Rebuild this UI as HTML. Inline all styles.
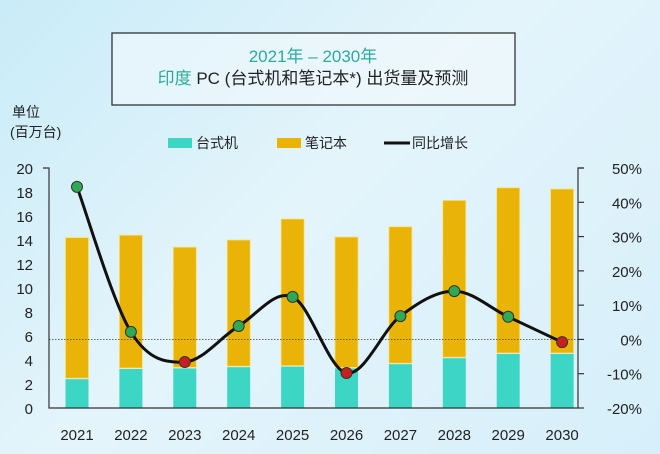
<!DOCTYPE html>
<html><head><meta charset="utf-8"><style>
body{margin:0;width:660px;height:454px;overflow:hidden;background:linear-gradient(135deg,#c9ecf8 0%,#e4f4fb 45%,#d6effa 100%);font-family:"Liberation Sans","Noto Sans CJK SC",sans-serif;}
svg{position:absolute;left:0;top:0}
</style></head><body>
<svg id="chart" width="660" height="454">
<rect x="112" y="33" width="403" height="72" fill="#f4fafd" fill-opacity="0.55" stroke="#333" stroke-width="1.3"/>
<text x="313" y="62" text-anchor="middle" font-size="17" fill="#2bab9f" font-family="Liberation Sans,Noto Sans CJK SC,sans-serif">2021年 – 2030年</text>
<text x="313" y="84" text-anchor="middle" font-size="17" fill="#222" font-family="Liberation Sans,Noto Sans CJK SC,sans-serif"><tspan fill="#2bab9f">印度</tspan> PC (台式机和笔记本*) 出货量及预测</text>
<text x="12" y="117" font-size="14" fill="#222">单位</text>
<text x="10" y="137" font-size="14" fill="#222">(百万台)</text>
<g>
<rect x="168" y="138" width="24" height="10" fill="#3dd6c4"/>
<text x="196" y="148" font-size="14" fill="#222">台式机</text>
<rect x="277" y="138" width="24" height="10" fill="#eab308"/>
<text x="305" y="148" font-size="14" fill="#222">笔记本</text>
<line x1="384" y1="143" x2="410" y2="143" stroke="#111" stroke-width="3"/>
<text x="412" y="148" font-size="14" fill="#222">同比增长</text>
</g>
<g id="plot"></g>
</svg>
<script>
const years=["2021","2022","2023","2024","2025","2026","2027","2028","2029","2030"];
const desktop=[2.4,3.25,3.3,3.4,3.45,3.3,3.65,4.15,4.5,4.5];
const totals=[14.2,14.4,13.4,14.0,15.75,14.25,15.1,17.3,18.35,18.25];
const growth=[44.5,2.2,-6.6,3.9,12.4,-9.8,6.8,14.1,6.6,-0.8];
const leftTicks=[0,2,4,6,8,10,12,14,16,18,20];
const rightTicks=[-20,-10,0,10,20,30,40,50];
const NS="http://www.w3.org/2000/svg";
const g=document.getElementById('plot');
const X0=49,X1=578,Y0=408,Y1=168;
const yL=v=>Y0-(v/20)*(Y0-Y1);
const yR=v=>Y0-((v+20)/70)*(Y0-Y1);
const step=53.9;
const xC=i=>77+step*i;
function mk(t,a){const e=document.createElementNS(NS,t);for(const k in a)e.setAttribute(k,a[k]);g.appendChild(e);return e;}
const bw=23;
years.forEach((yr,i)=>{
  const d=mk('rect',{x:xC(i)-bw/2,y:yL(desktop[i]),width:bw,height:Y0-yL(desktop[i]),fill:'#3dd6c4'});
  
  
  const n=mk('rect',{x:xC(i)-bw/2,y:yL(totals[i]),width:bw,height:yL(desktop[i])-yL(totals[i])-1,fill:'#eab308',stroke:'#f6e27a','stroke-width':0.8});
  
  
  const t=mk('text',{x:xC(i),y:440,'text-anchor':'middle','font-size':15,fill:'#222'});
  t.textContent=yr;
  
  
});
const z=mk('line',{x1:X0,x2:X1,y1:yR(0),y2:yR(0),stroke:'#555','stroke-width':0.8,'stroke-dasharray':'1.5,1.5'});


const ax=mk('path',{d:`M${X0-6},${Y1} H${X0} V${Y0} H${X1} V${Y1} H${X1+6}`,fill:'none',stroke:'#333','stroke-width':1.2});


leftTicks.forEach(v=>{
  const t=mk('text',{x:33,y:yL(v)+6,'text-anchor':'end','font-size':15,fill:'#222'});
  t.textContent=v;
  
  
});
rightTicks.forEach(v=>{
  mk('line',{x1:X1,x2:X1+6,y1:yR(v),y2:yR(v),stroke:'#333','stroke-width':1.2});
  const t=mk('text',{x:642,y:yR(v)+6,'text-anchor':'end','font-size':15,fill:'#222'});
  t.textContent=v+'%';
  
  
});
const pts=growth.map((v,i)=>[xC(i),yR(v)]);
let d=`M${pts[0][0]},${pts[0][1]}`;
for(let i=0;i<pts.length-1;i++){
  const p0=pts[Math.max(0,i-1)],p1=pts[i],p2=pts[i+1],p3=pts[Math.min(pts.length-1,i+2)];
  const c1=[p1[0]+(p2[0]-p0[0])/6,p1[1]+(p2[1]-p0[1])/6];
  const c2=[p2[0]-(p3[0]-p1[0])/6,p2[1]-(p3[1]-p1[1])/6];
  d+=` C${c1[0]},${c1[1]} ${c2[0]},${c2[1]} ${p2[0]},${p2[1]}`;
}
const ln=mk('path',{d:d,fill:'none',stroke:'#111','stroke-width':3});


growth.forEach((v,i)=>{
  const c=mk('circle',{cx:pts[i][0],cy:pts[i][1],r:5.5,fill:v>=0?'#2eaa55':'#c81e1e',stroke:'#333','stroke-width':1});
  
  
});
</script>
</body></html>
